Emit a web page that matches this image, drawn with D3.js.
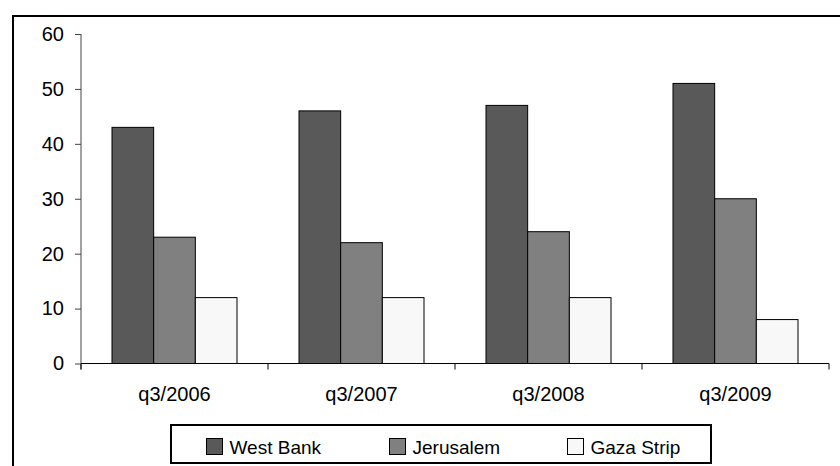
<!DOCTYPE html>
<html>
<head>
<meta charset="utf-8">
<script src="https://cdn.jsdelivr.net/npm/d3@7"></script>
<style>
  body { margin: 0; background: #fff; }
  svg { display: block; font-family: "Liberation Sans", Arial, sans-serif; }
</style>
</head>
<body>
<svg id="chart" width="840" height="466"></svg>
<script>
const categories = ["q3/2006", "q3/2007", "q3/2008", "q3/2009"];
const seriesNames = ["West Bank", "Jerusalem", "Gaza Strip"];
const westBank = [43, 46, 47, 51];
const jerusalem = [23, 22, 24, 30];
const gazaStrip = [12, 12, 12, 8];
const yTicks = [0, 10, 20, 30, 40, 50, 60];

const seriesValues = [westBank, jerusalem, gazaStrip];
const colors = ["#595959", "#808080", "#f8f8f8"];

const svg = d3.select("#chart");

// outer frame (runs off the right and bottom edges)
svg.append("rect")
  .attr("x", 13).attr("y", 16)
  .attr("width", 840).attr("height", 480)
  .attr("fill", "none").attr("stroke", "#000").attr("stroke-width", 2);

const plot = { left: 81, right: 829, top: 34, bottom: 363.5 };

const x0 = d3.scaleBand().domain(categories).range([plot.left, plot.right]);
const x1 = d3.scaleBand().domain(seriesNames)
  .range([31, x0.bandwidth() - 31]);
const y = d3.scaleLinear().domain([0, 60]).range([plot.bottom, plot.top]);

// bars
const rows = categories.map((c, i) => ({
  cat: c,
  vals: seriesNames.map((s, j) => ({ s, v: seriesValues[j][i], color: colors[j] }))
}));

const groups = svg.selectAll("g.cat").data(rows).enter().append("g")
  .attr("class", "cat")
  .attr("transform", d => `translate(${x0(d.cat)},0)`);

groups.selectAll("rect").data(d => d.vals).enter().append("rect")
  .attr("x", d => x1(d.s))
  .attr("width", x1.bandwidth())
  .attr("y", d => y(d.v))
  .attr("height", d => y(0) - y(d.v))
  .attr("fill", d => d.color)
  .attr("stroke", "#000")
  .attr("stroke-width", 1);

// y axis
const yAxis = svg.append("g")
  .attr("transform", `translate(${plot.left},0)`)
  .call(d3.axisLeft(y).tickValues(yTicks).tickSize(6).tickPadding(11));
yAxis.select(".domain").attr("stroke", "#444").attr("d", `M0,${plot.top}V${plot.bottom + 6}`);
yAxis.selectAll(".tick line").attr("stroke", "#444");
yAxis.selectAll("text").attr("font-size", 20).attr("fill", "#000")
  .attr("font-family", "Liberation Sans, Arial, sans-serif");

// x axis
const xAxis = svg.append("g")
  .attr("transform", `translate(0,${plot.bottom})`);
xAxis.append("line")
  .attr("x1", plot.left).attr("x2", plot.right)
  .attr("stroke", "#000");
xAxis.selectAll("line.tick").data(categories.concat([null])).enter().append("line")
  .attr("class", "tick")
  .attr("x1", d => d === null ? plot.right : x0(d))
  .attr("x2", d => d === null ? plot.right : x0(d))
  .attr("y1", 0).attr("y2", 6)
  .attr("stroke", "#000");
xAxis.selectAll("text").data(categories).enter().append("text")
  .attr("x", d => x0(d) + x0.bandwidth() / 2)
  .attr("y", 37.5)
  .attr("text-anchor", "middle")
  .attr("font-size", 20)
  .text(d => d);

// legend
const legend = svg.append("g");
legend.append("rect")
  .attr("x", 171).attr("y", 425)
  .attr("width", 540).attr("height", 38)
  .attr("fill", "#fff").attr("stroke", "#000").attr("stroke-width", 2);

const legendX = [206.5, 389.5, 567.5];
const items = legend.selectAll("g.item").data(seriesNames).enter().append("g")
  .attr("class", "item")
  .attr("transform", (d, i) => `translate(${legendX[i]},438.5)`);
items.append("rect")
  .attr("width", 16).attr("height", 16)
  .attr("fill", (d, i) => colors[i])
  .attr("stroke", "#000");
items.append("text")
  .attr("x", 23).attr("y", 15.5)
  .attr("font-size", 19)
  .text(d => d);
</script>
</body>
</html>
